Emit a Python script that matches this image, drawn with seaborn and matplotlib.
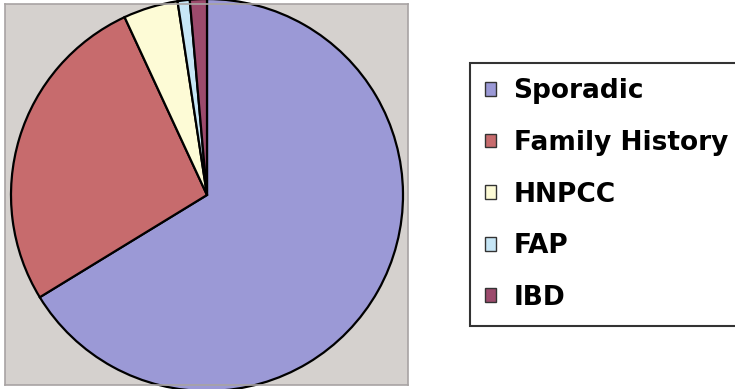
import matplotlib
matplotlib.use('Agg')
import matplotlib.pyplot as plt
import seaborn as sns

# Data
categories = ['Sporadic', 'Family History', 'HNPCC', 'FAP', 'IBD']
shares = [66.2, 26.8, 4.5, 1.0, 1.4]
slice_colors = ['#9b99d6', '#c76b6d', '#fdfbd6', '#c6e6f6', '#9c4a6c']

sns.set_style('white')
plt.rcParams['font.family'] = ['DejaVu Sans']
plt.rcParams['text.color'] = 'black'

palette = sns.color_palette(slice_colors)

fig = plt.figure(figsize=(7.35, 3.89), dpi=100)
# axes measured in pixels of the reference
ax = fig.add_axes([5 / 735, 4 / 389, 403 / 735, 381 / 389])
ax.set_facecolor('#d5d1ce')

wedges, _ = ax.pie(shares, colors=palette, startangle=90, counterclock=False,
                   center=(207, 194), radius=196, frame=True,
                   wedgeprops=dict(edgecolor='black', linewidth=1.6))
ax.set_xlim(5, 408)
ax.set_ylim(4, 385)
ax.set_aspect('auto')
ax.set_xticks([])
ax.set_yticks([])
for s in ax.spines.values():
    s.set_color('#a8a3a3')
    s.set_linewidth(1.2)

leg = fig.legend(wedges, categories, loc='upper left',
                 bbox_to_anchor=(470 / 735, 1 - 63 / 389),
                 prop=dict(size=19, weight='bold'),
                 handlelength=0.42, handleheight=0.42, handletextpad=0.65,
                 borderpad=0.58, labelspacing=0.97, borderaxespad=0,
                 fancybox=False, frameon=True)
leg.get_frame().set_edgecolor('black')
leg.get_frame().set_linewidth(1.5)
for t in leg.get_texts():
    t.set_color('black')
for h in leg.legend_handles:
    h.set_linewidth(1.0)
    h.set_edgecolor('#333333')

fig.savefig('out.png', dpi=100)
